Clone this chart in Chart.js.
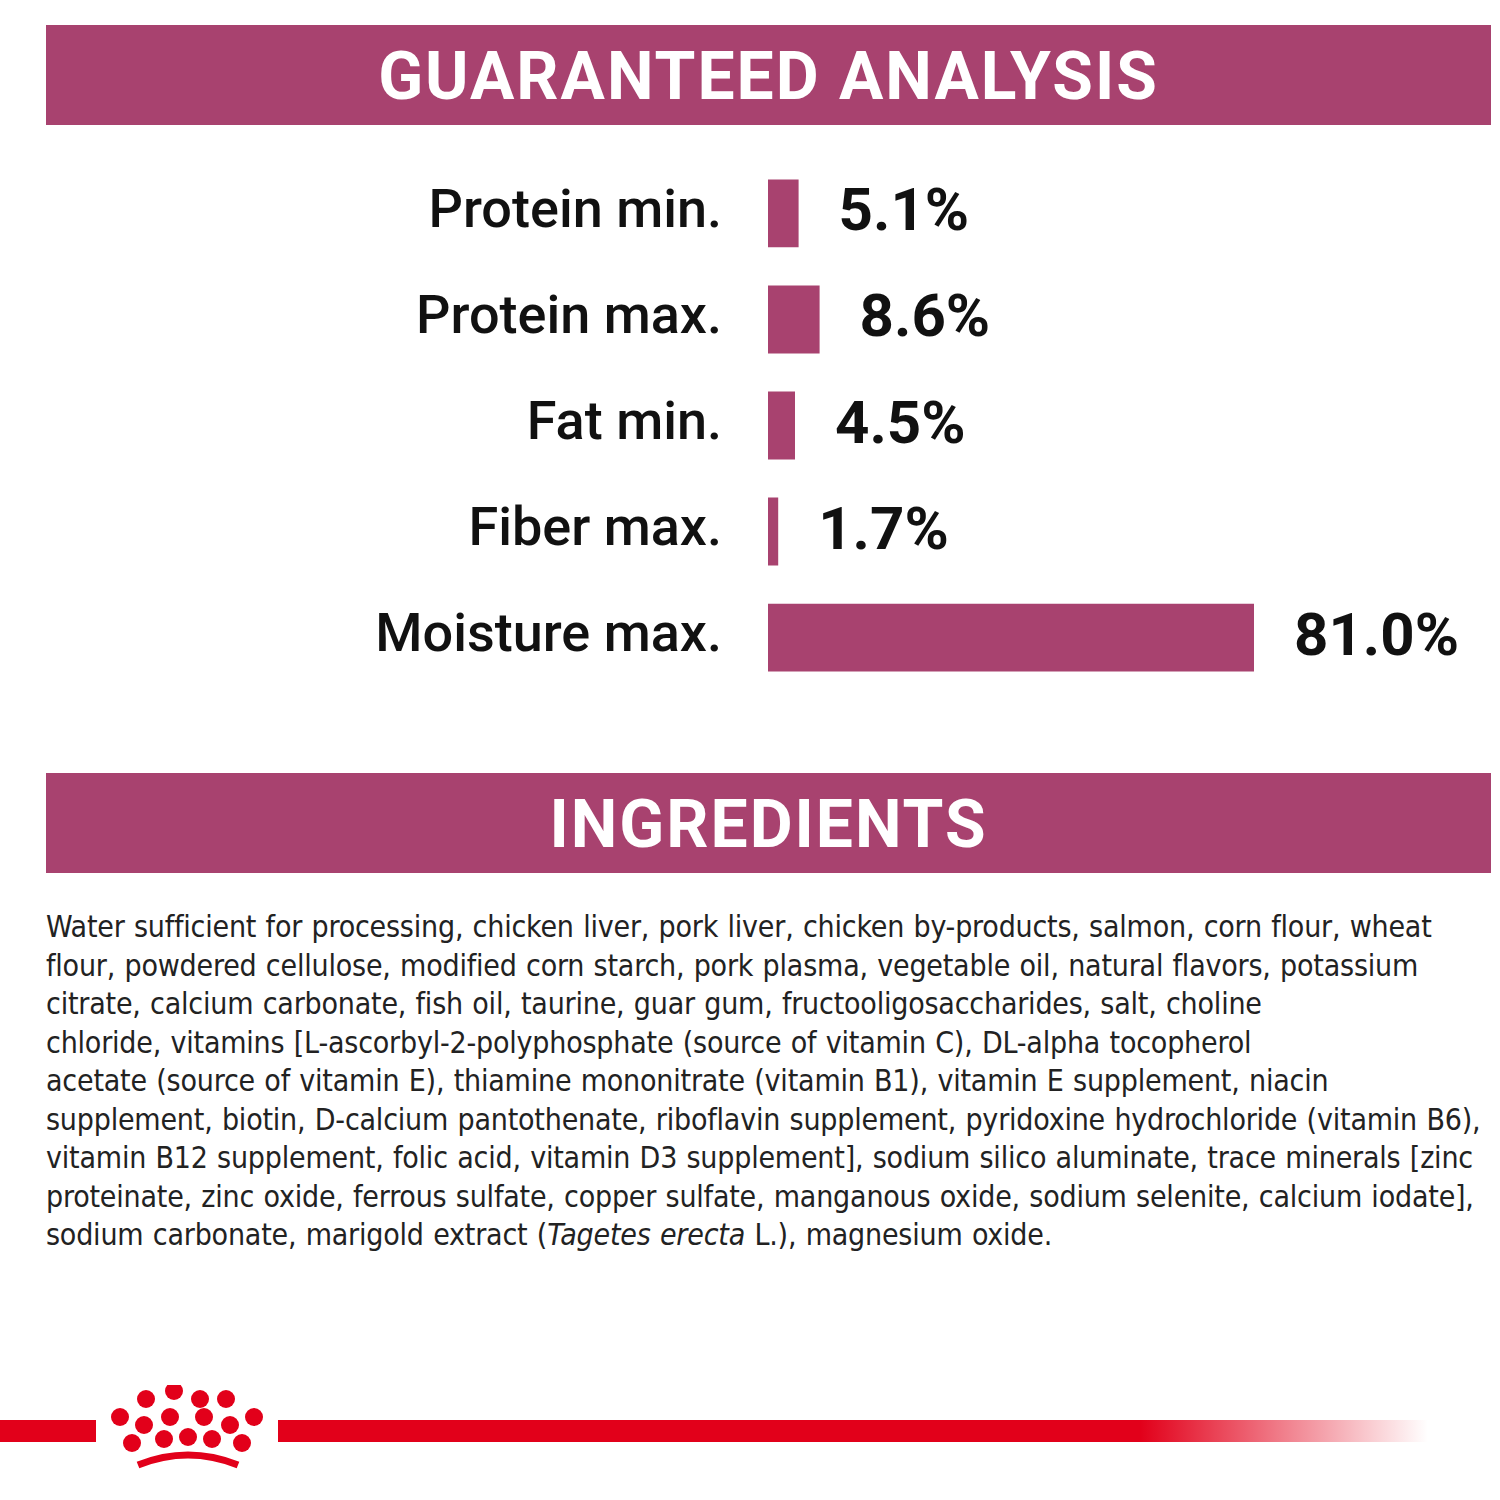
<!DOCTYPE html>
<html>
<head>
<meta charset="utf-8">
<script src="https://cdn.jsdelivr.net/npm/chart.js@4"></script>
<style>
    body { margin: 0; width: 1500px; height: 1500px; background: #fff; position: relative; overflow: hidden; font-family: Roboto, "Noto Sans", sans-serif; }
    .band { position: absolute; left: 46px; width: 1445px; height: 100px; background: #a8426f; color: #fff; font-weight: bold; font-size: 66px; text-align: center; line-height: 104px; letter-spacing: 2px; }
    #gaChart { position: absolute; left: 0; top: 90px; }
    #ingredients { position: absolute; left: 46px; top: 908px; width: 1450px; font-family: "DejaVu Sans Condensed", Roboto, sans-serif; font-size: 30px; line-height: 38.5px; color: #222; letter-spacing: -0.2px; word-spacing: 1px; }
    .redline { position: absolute; top: 1420px; height: 22px; }
</style>
</head>
<body>
<canvas id="gaChart" width="1500" height="671"></canvas>
<div class="band" style="top:25px">GUARANTEED ANALYSIS</div>
<div class="band" style="top:773px">INGREDIENTS</div>
<div id="ingredients">Water sufficient for processing, chicken liver, pork liver, chicken by-products, salmon, corn flour, wheat flour, powdered cellulose, modified corn starch, pork plasma, vegetable oil, natural flavors, potassium citrate, calcium carbonate, fish oil, taurine, guar gum, fructooligosaccharides, salt, choline<br>chloride, vitamins [L-ascorbyl-2-polyphosphate (source of vitamin C), DL-alpha tocopherol<br>acetate (source of vitamin E), thiamine mononitrate (vitamin B1), vitamin E supplement, niacin supplement, biotin, D-calcium pantothenate, riboflavin supplement, pyridoxine hydrochloride (vitamin B6), vitamin B12 supplement, folic acid, vitamin D3 supplement], sodium silico aluminate, trace minerals [zinc proteinate, zinc oxide, ferrous sulfate, copper sulfate, manganous oxide, sodium selenite, calcium iodate], sodium carbonate, marigold extract (<i>Tagetes erecta</i> L.), magnesium oxide.</div>
<div class="redline" style="left:0; width:96px; background:#e2001a"></div>
<div class="redline" style="left:278px; width:1150px; background:linear-gradient(to right, #e2001a 75%, rgba(226,0,26,0))"></div>
<svg style="position:absolute; left:108px; top:1385px" width="160" height="90">
    <g fill="#e2001a">
        <circle cx="12" cy="32" r="9"/><circle cx="38" cy="14" r="9"/><circle cx="66" cy="6" r="9"/><circle cx="92" cy="14" r="9"/><circle cx="118" cy="14" r="9"/><circle cx="146" cy="32" r="9"/>
        <circle cx="36" cy="40" r="9"/><circle cx="62" cy="32" r="9"/><circle cx="96" cy="32" r="9"/><circle cx="122" cy="40" r="9"/>
        <circle cx="24" cy="58" r="9"/><circle cx="56" cy="54" r="9"/><circle cx="80" cy="52" r="9"/><circle cx="104" cy="54" r="9"/><circle cx="134" cy="58" r="9"/>
    </g>
    <path d="M30 80 Q80 60 130 80" stroke="#e2001a" stroke-width="7" fill="none"/>
</svg>
<script>
    const categories = ["Protein min.", "Protein max.", "Fat min.", "Fiber max.", "Moisture max."];
    const values = [5.1, 8.6, 4.5, 1.7, 81.0];
    const valueLabels = ["5.1%", "8.6%", "4.5%", "1.7%", "81.0%"];

    const valueLabelPlugin = {
        id: "valueLabels",
        afterDatasetsDraw(chart) {
            let ctx = chart.ctx;
            let meta = chart.getDatasetMeta(0);
            ctx.save();
            ctx.fillStyle = "#111";
            ctx.font = "bold 60px Roboto";
            ctx.textBaseline = "middle";
            meta.data.forEach((bar, i) => {
                ctx.fillText(valueLabels[i], bar.x + 40, bar.y + 2);
            });
            ctx.restore();
        }
    };

    new Chart(document.getElementById("gaChart"), {
        type: "bar",
        data: {
            labels: categories,
            datasets: [{
                data: values,
                backgroundColor: "#a8426f",
                categoryPercentage: 1,
                barPercentage: 0.64
            }]
        },
        options: {
            indexAxis: "y",
            responsive: false,
            devicePixelRatio: 1,
            animation: false,
            layout: { padding: { right: 246 } },
            plugins: { legend: { display: false }, tooltip: { enabled: false } },
            scales: {
                x: { display: false, min: 0, max: 81 },
                y: {
                    grid: { display: false },
                    border: { display: false },
                    afterFit: scale => { scale.width = 768; },
                    ticks: { color: "#111", padding: 38, font: { family: "Roboto", size: 54, weight: "500" } }
                }
            }
        },
        plugins: [valueLabelPlugin]
    });
</script>
</body>
</html>
